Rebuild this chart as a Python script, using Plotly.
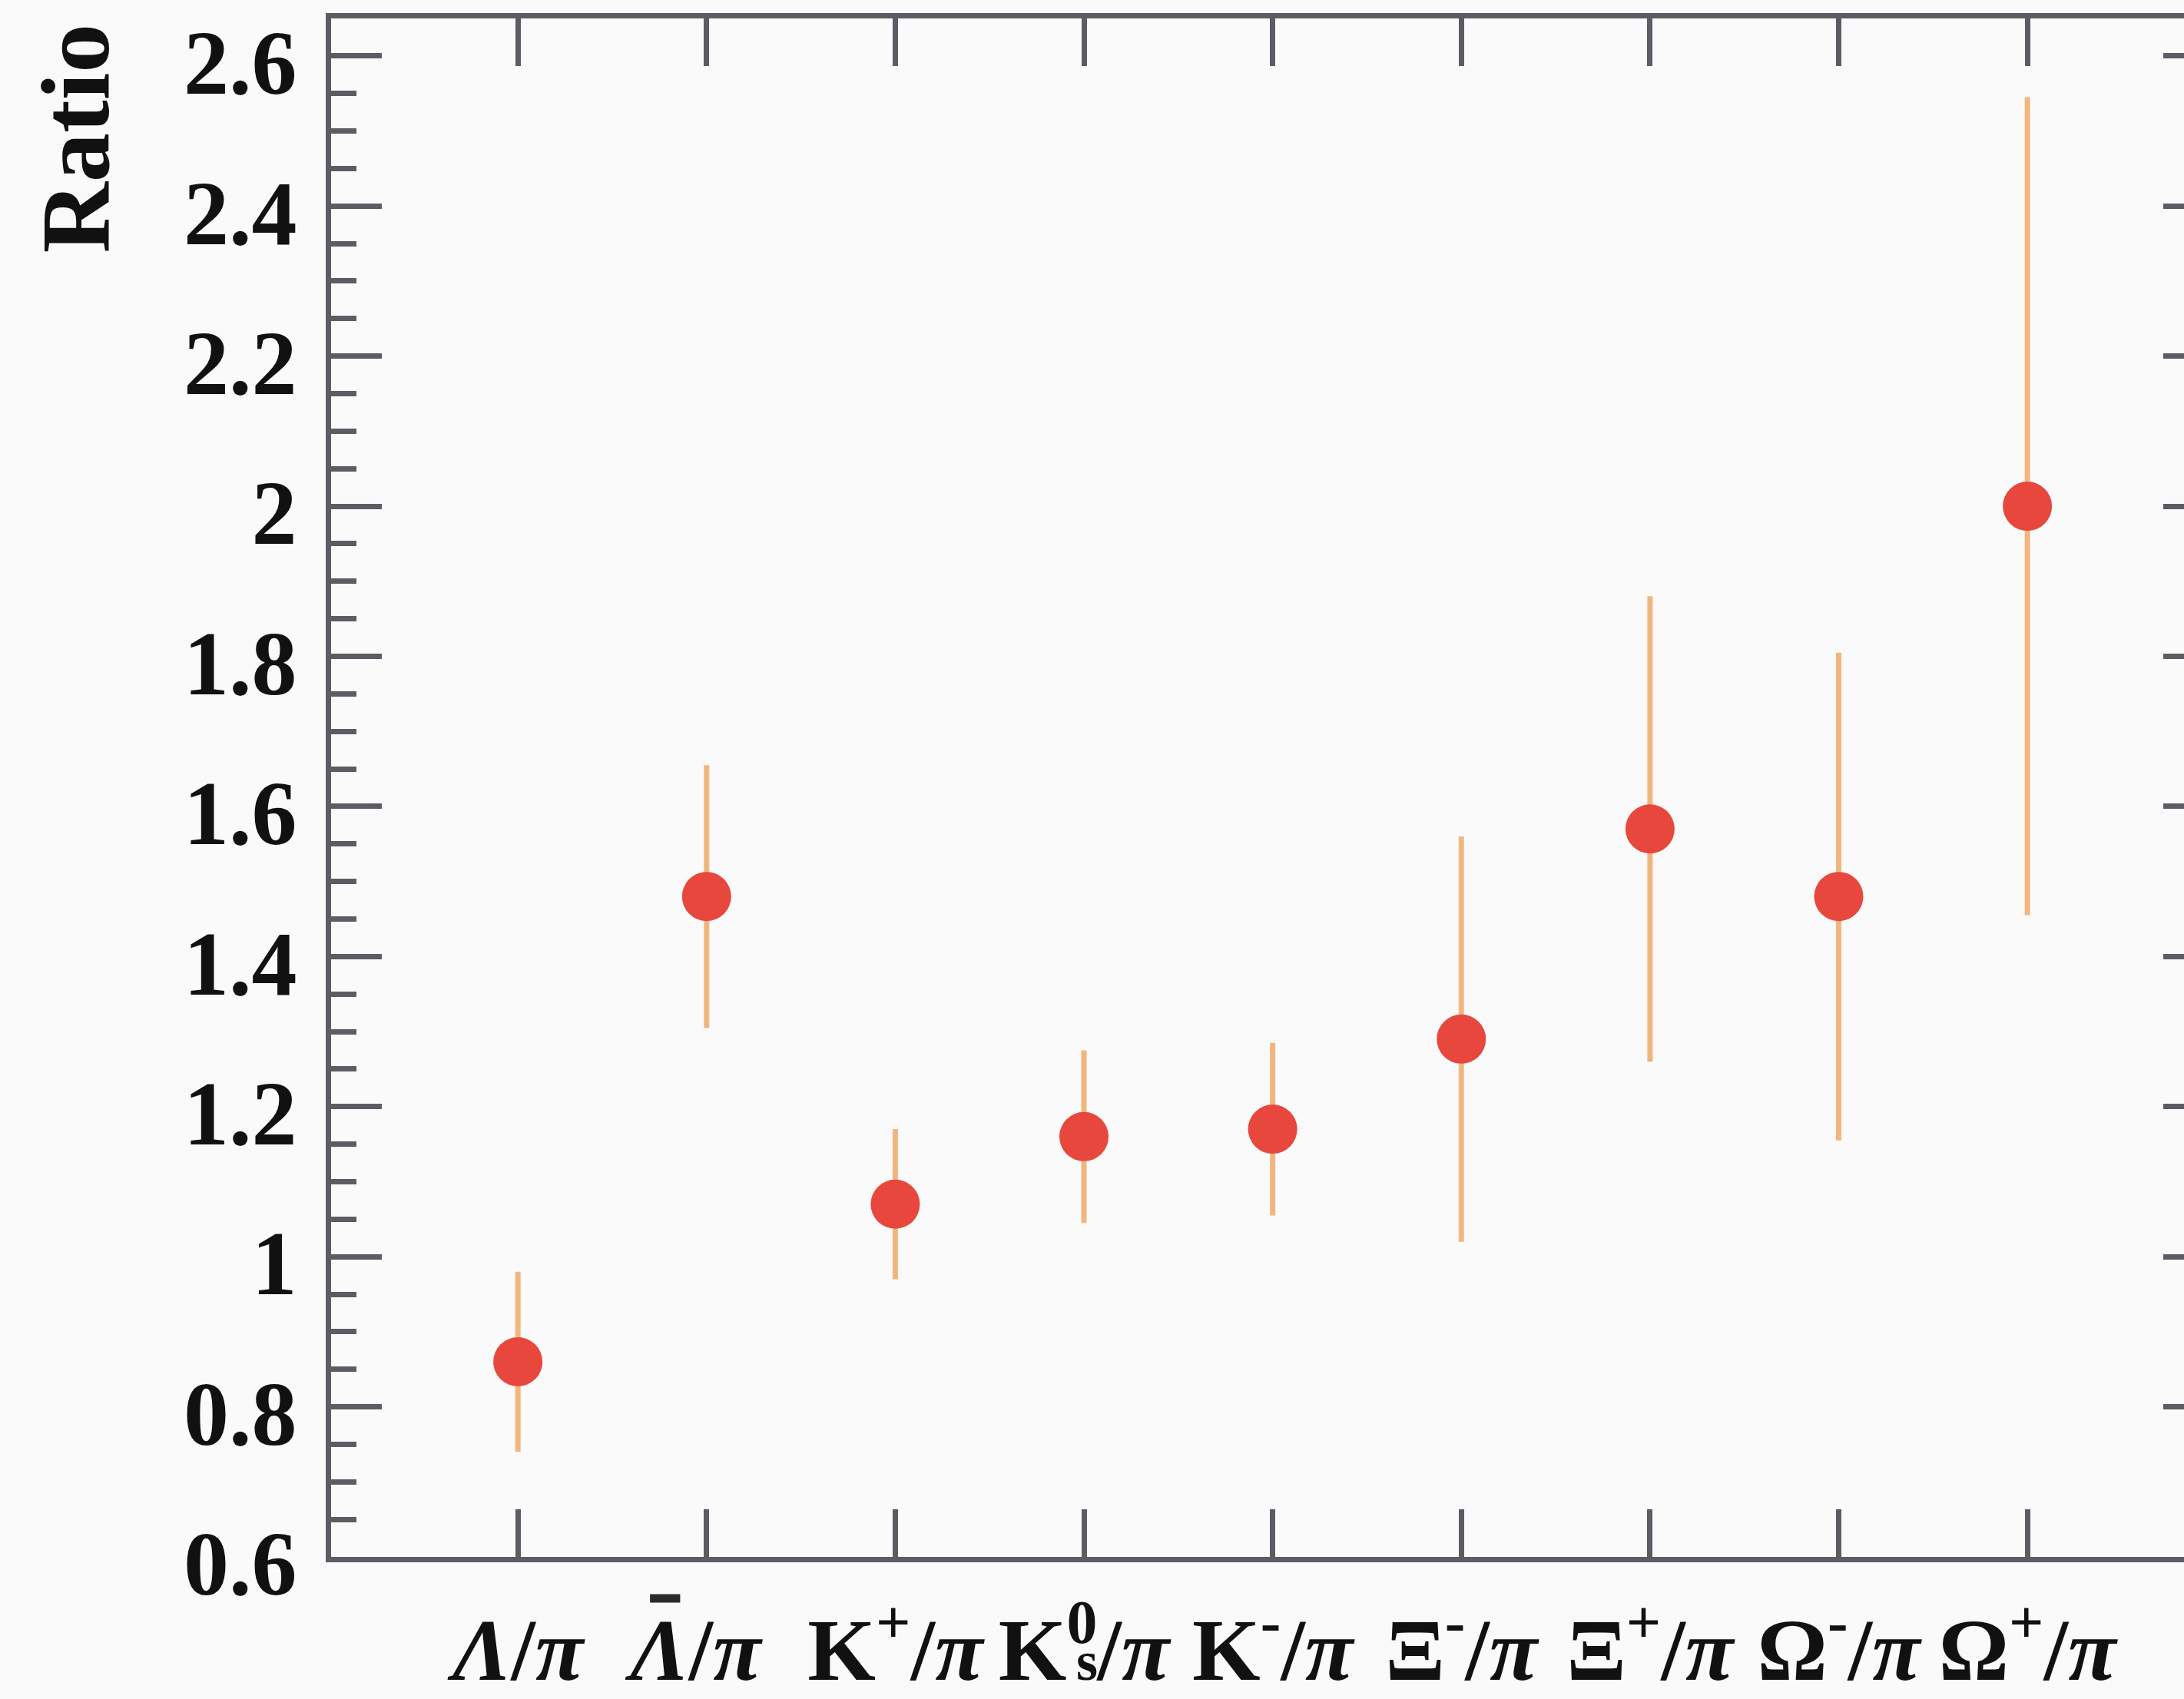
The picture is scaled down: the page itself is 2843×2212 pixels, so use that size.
import plotly.graph_objects as go

# Particle ratios (double ratios to pions) with their uncertainties
particles = [
    "<i>Λ</i>/<i>π</i>",
    "<i>Λ</i>/<i>π</i> ",
    "K<sup>+</sup>/<i>π</i>",
    "K<sup>0</sup>/<i>π</i>",
    "K<sup>-</sup>/<i>π</i>",
    "Ξ<sup>-</sup>/<i>π</i>",
    "Ξ<sup>+</sup>/<i>π</i>",
    "Ω<sup>-</sup>/<i>π</i>",
    "Ω<sup>+</sup>/<i>π</i>",
]
ratio = [0.86, 1.48, 1.07, 1.16, 1.17, 1.29, 1.57, 1.48, 2.00]
ratio_err = [0.12, 0.175, 0.10, 0.115, 0.115, 0.27, 0.31, 0.325, 0.545]

y_range = [0.6, 2.65]
x_range = [-0.99, 8.83]

FONT = "Liberation Serif"
AXIS_COL = "#5c5c64"
POINT_COL = "#e8473d"
ERR_COL = "#f1b67e"
TEXT_COL = "#111111"

fig = go.Figure()

fig.add_trace(go.Scatter(
    x=particles, y=ratio,
    mode="markers",
    marker=dict(size=64, color=POINT_COL, line=dict(width=0)),
    error_y=dict(type="data", array=ratio_err, visible=True,
                 color=ERR_COL, thickness=7, width=0),
    showlegend=False, hoverinfo="x+y",
))

# carrier for the right-hand frame ticks
fig.add_trace(go.Scatter(
    x=particles, y=ratio, yaxis="y2", mode="markers",
    marker=dict(size=1, opacity=0), showlegend=False, hoverinfo="skip",
))

fig.update_layout(
    width=2843, height=2212,
    margin=dict(l=431, r=0, t=24, b=178, pad=0),
    paper_bgcolor="#fafafa", plot_bgcolor="#fafafa",
    font=dict(family=FONT, color=TEXT_COL),
    xaxis=dict(
        type="category", range=x_range,
        showgrid=False, zeroline=False,
        showline=True, linecolor=AXIS_COL, linewidth=7, mirror="ticks",
        ticks="inside", ticklen=62, tickwidth=7, tickcolor=AXIS_COL,
        tickfont=dict(family=FONT, size=114, color=TEXT_COL, weight="bold"),
        ticklabelstandoff=16,
    ),
    yaxis=dict(
        range=y_range, dtick=0.2, tick0=0.6,
        showgrid=False, zeroline=False,
        showline=True, linecolor=AXIS_COL, linewidth=7, mirror=False,
        ticks="inside", ticklen=66, tickwidth=7, tickcolor=AXIS_COL,
        minor=dict(dtick=0.05, tick0=0.6, ticks="inside", ticklen=33,
                   tickwidth=7, tickcolor=AXIS_COL, showgrid=False),
        tickfont=dict(family=FONT, size=118, color=TEXT_COL, weight="bold"),
        ticklabelstandoff=14, ticklabelshift=8,
    ),
    yaxis2=dict(
        range=y_range, dtick=0.2, tick0=0.6, overlaying="y", side="right",
        showgrid=False, zeroline=False, showline=False,
        ticks="inside", ticklen=27, tickwidth=7, tickcolor=AXIS_COL,
        showticklabels=False,
    ),
    annotations=[
        dict(text="<b>Ratio</b>", textangle=-90, xref="paper", yref="paper",
             x=-0.138, y=0.922, xanchor="center", yanchor="middle",
             showarrow=False, font=dict(family=FONT, size=128, color=TEXT_COL)),
        # stacked subscript of the K0s label
        dict(text="<b>s</b>", xref="x", yref="paper", x=particles[3], y=-0.068,
             xshift=4, xanchor="center", yanchor="middle", showarrow=False,
             font=dict(family=FONT, size=72, color=TEXT_COL)),
    ],
    shapes=[
        # bar over the anti-lambda symbol
        dict(type="line", xref="x", yref="paper",
             x0=particles[1], x1=particles[1], x0shift=-0.30, x1shift=-0.14,
             y0=-0.027, y1=-0.027, line=dict(color="#2a2a2a", width=11)),
    ],
)

fig.write_html("out.html")
